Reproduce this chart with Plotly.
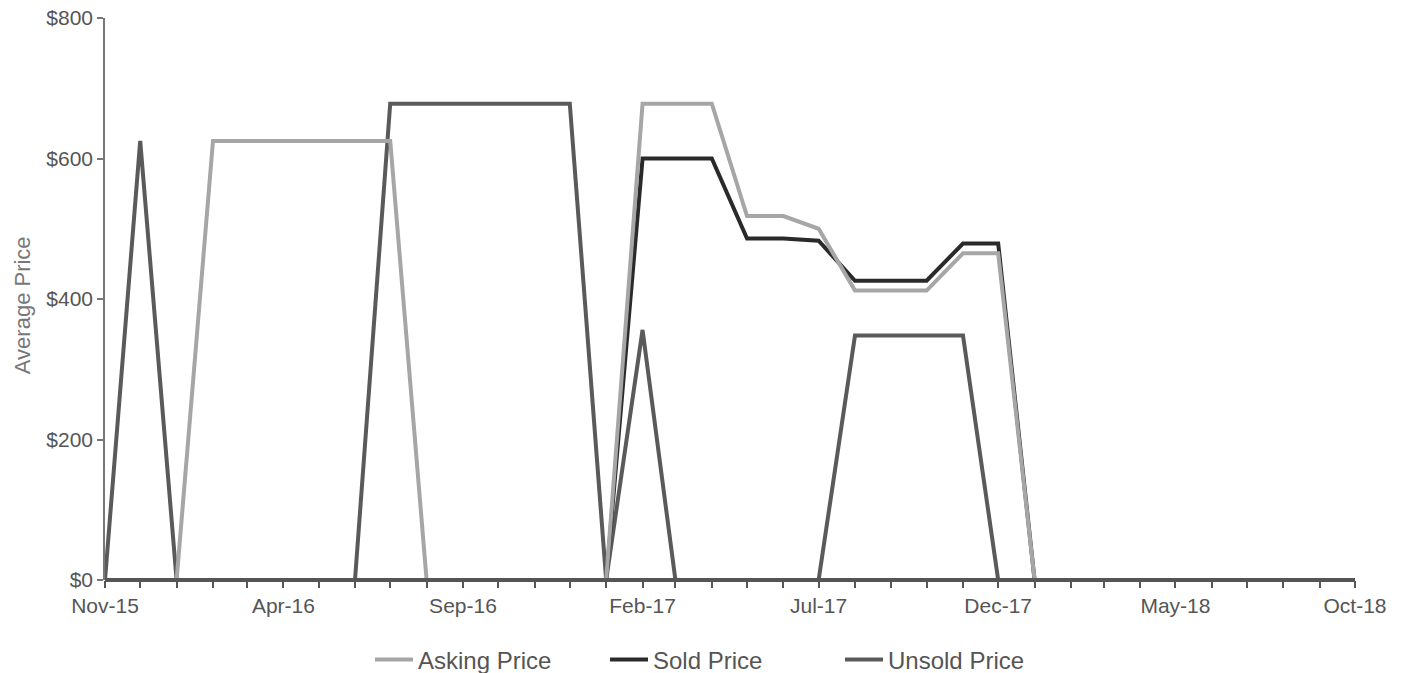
import plotly.graph_objects as go
import pandas as pd

months = pd.date_range("2015-11-01", "2018-10-01", freq="MS").strftime("%Y-%m-%d").tolist()

asking_price = [0, 0, 0, 625, 625, 625, 625, 625, 625, 0, 0, 0, 0, 0, 0,
                678, 678, 678, 518, 518, 500, 412, 412, 412, 465, 465,
                0, 0, 0, 0, 0, 0, 0, 0, 0, 0]
sold_price = [0, 0, 0, 0, 0, 0, 0, 0, 0, 0, 0, 0, 0, 0, 0,
              600, 600, 600, 486, 486, 483, 426, 426, 426, 479, 479,
              0, 0, 0, 0, 0, 0, 0, 0, 0, 0]
unsold_price = [0, 625, 0, 0, 0, 0, 0, 0, 678, 678, 678, 678, 678, 678, 0,
                356, 0, 0, 0, 0, 0, 348, 348, 348, 348, 0,
                0, 0, 0, 0, 0, 0, 0, 0, 0, 0]

y_ticks = [0, 200, 400, 600, 800]

FONT = "Liberation Sans, Arial, sans-serif"
TXT = "#555555"

fig = go.Figure()
fig.add_trace(go.Scatter(x=months, y=unsold_price, name="Unsold Price", mode="lines",
                         line=dict(color="#5a5a5a", width=4), legendrank=3, cliponaxis=False))
fig.add_trace(go.Scatter(x=months, y=sold_price, name="Sold Price", mode="lines",
                         line=dict(color="#2a2a2a", width=4), legendrank=2, cliponaxis=False))
fig.add_trace(go.Scatter(x=months, y=asking_price, name="Asking Price", mode="lines",
                         line=dict(color="#a6a6a6", width=4), legendrank=1, cliponaxis=False))

fig.update_layout(
    width=1408, height=673,
    margin=dict(l=105, r=53, t=18, b=93, autoexpand=False),
    paper_bgcolor="white", plot_bgcolor="white",
    font=dict(family=FONT, color=TXT, size=21),
    showlegend=True,
    legend=dict(orientation="h", x=0.494, xanchor="center", y=-0.142, yanchor="middle",
                font=dict(size=24, color=TXT), traceorder="normal",
                itemwidth=38, entrywidth=182, entrywidthmode="pixels"),
    xaxis=dict(
        type="date", range=["2015-11-01", "2018-10-01"],
        tick0="2015-11-01", dtick="M5", tickformat="%b-%y",
        ticks="outside", ticklen=7, tickwidth=1.5, tickcolor="#555555",
        minor=dict(dtick="M1", tick0="2015-11-01", ticks="outside", ticklen=7,
                   tickwidth=1.5, tickcolor="#555555", showgrid=False),
        showline=False,
        showgrid=False, zeroline=False,
        tickfont=dict(size=21, color=TXT),
    ),
    yaxis=dict(
        range=[0, 800], tickvals=y_ticks, ticktext=[f"${v}" for v in y_ticks],
        ticks="outside", ticklen=6, tickwidth=1.5, tickcolor="#777777",
        showline=True, linecolor="#777777", linewidth=1.5,
        showgrid=False, zeroline=False,
        tickfont=dict(size=21, color=TXT),
    ),
    shapes=[dict(type="line", xref="paper", yref="paper", x0=0, x1=1, y0=0, y1=0,
                 line=dict(color="#555555", width=4), layer="above")],
    annotations=[dict(text="Average Price", textangle=-90, xref="paper", yref="paper",
                      x=-0.0664, y=0.489, xanchor="center", yanchor="middle", showarrow=False,
                      font=dict(size=22, color="#777777"))],
)

fig.write_html("out.html", config={"displayModeBar": False},
               post_script=["document.body.style.margin='0';document.body.style.overflow='hidden';"])
